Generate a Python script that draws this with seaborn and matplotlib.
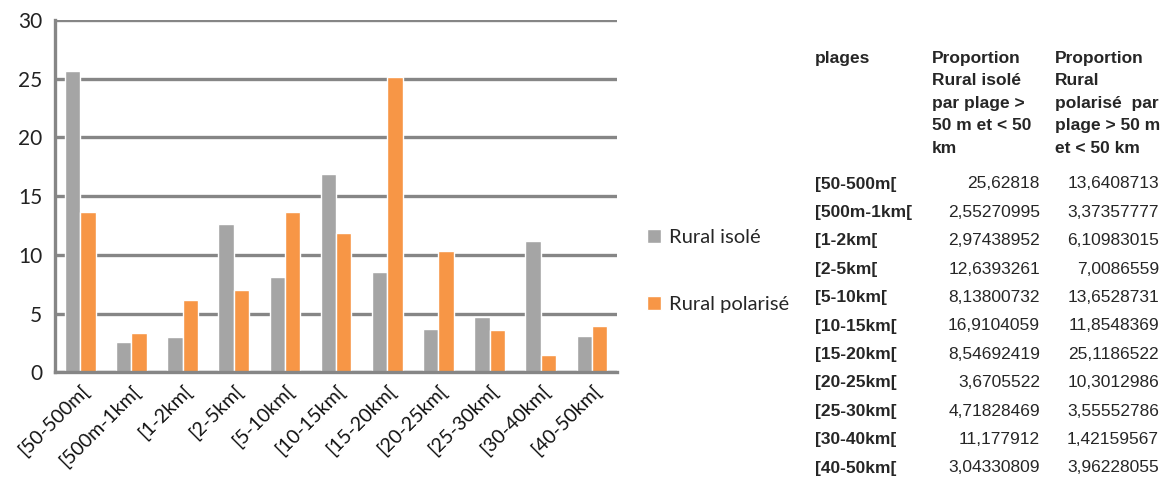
import pandas as pd
import seaborn as sns
import matplotlib.pyplot as plt
from matplotlib.ticker import FixedLocator

plages = ["[50-500m[", "[500m-1km[", "[1-2km[", "[2-5km[", "[5-10km[", "[10-15km[",
          "[15-20km[", "[20-25km[", "[25-30km[", "[30-40km[", "[40-50km["]
rural_isole = [25.62818, 2.55270995, 2.97438952, 12.6393261, 8.13800732, 16.9104059,
               8.54692419, 3.6705522, 4.71828469, 11.177912, 3.04330809]
rural_polarise = [13.6408713, 3.37357777, 6.10983015, 7.0086559, 13.6528731, 11.8548369,
                  25.1186522, 10.3012986, 3.55552786, 1.42159567, 3.96228055]
series = ["Rural isolé", "Rural polarisé"]
header_isole = "Proportion\nRural isolé\npar plage >\n50 m et < 50\nkm"
header_polarise = "Proportion\nRural\npolarisé  par\nplage > 50 m\net < 50 km"

df = pd.DataFrame({"plage": plages * 2,
                   "valeur": rural_isole + rural_polarise,
                   "serie": [series[0]] * len(plages) + [series[1]] * len(plages)})

sns.set_style("white")
plt.rcParams["font.family"] = ["Lato", "DejaVu Sans"]

fig = plt.figure(figsize=(11.65, 4.79), dpi=100)
ax = fig.add_axes([0.047, 0.223, 0.483, 0.735])

sns.barplot(data=df, x="plage", y="valeur", hue="serie", order=plages,
            palette=["#A5A5A5", "#F79646"], width=0.6, saturation=1,
            ax=ax, legend=True)

grid = "#868686"
ax.set_ylim(0, 30)
ax.set_xlim(-0.5, len(plages) - 0.5)
ax.set_yticks(range(0, 31, 5))
ax.yaxis.grid(True, color=grid, linewidth=2.4)
ax.set_axisbelow(True)
for s in ["top", "right"]:
    ax.spines[s].set_visible(False)
for s in ["left", "bottom"]:
    ax.spines[s].set_color(grid)
    ax.spines[s].set_linewidth(2.4)
ax.tick_params(axis="y", length=5, width=2.4, color=grid, labelsize=15, pad=4,
               labelcolor="#222222")
ax.tick_params(axis="x", which="major", length=0, labelsize=14, pad=7,
               labelcolor="#111111")
ax.xaxis.set_minor_locator(FixedLocator([i - 0.5 for i in range(len(plages) + 1)]))
ax.tick_params(axis="x", which="minor", length=5, width=2.4, color=grid)
plt.setp(ax.get_xticklabels(), rotation=45, ha="right", rotation_mode="anchor")
ax.set_xlabel("")
ax.set_ylabel("")

handles, labels = ax.get_legend_handles_labels()
ax.get_legend().remove()
fig.legend(handles, labels, loc="upper left", bbox_to_anchor=(0.54, 0.56),
           frameon=False, fontsize=14.5, labelspacing=2.5, handlelength=0.7,
           handleheight=0.7, handletextpad=0.4)

# table on the right
tf = "Liberation Sans"
fs = 12.5
fig.text(815 / 1165, 1 - 51 / 479, "plages", fontsize=fs, fontweight="bold",
         fontfamily=tf, va="top")
fig.text(932 / 1165, 1 - 51 / 479, header_isole, fontsize=fs, fontweight="bold",
         fontfamily=tf, va="top", linespacing=1.62)
fig.text(1055 / 1165, 1 - 51 / 479, header_polarise, fontsize=fs, fontweight="bold",
         fontfamily=tf, va="top", linespacing=1.62)

def fmt(v):
    return f"{v:.9g}".replace(".", ",")

for i, p in enumerate(plages):
    y = 1 - (184 + i * 28.4) / 479
    fig.text(815 / 1165, y, p, fontsize=fs, fontweight="bold", fontfamily=tf,
             va="center")
    fig.text(1040 / 1165, y, fmt(rural_isole[i]), fontsize=fs, fontfamily=tf,
             va="center", ha="right")
    fig.text(1159 / 1165, y, fmt(rural_polarise[i]), fontsize=fs, fontfamily=tf,
             va="center", ha="right")

fig.savefig("out.png", dpi=100)
